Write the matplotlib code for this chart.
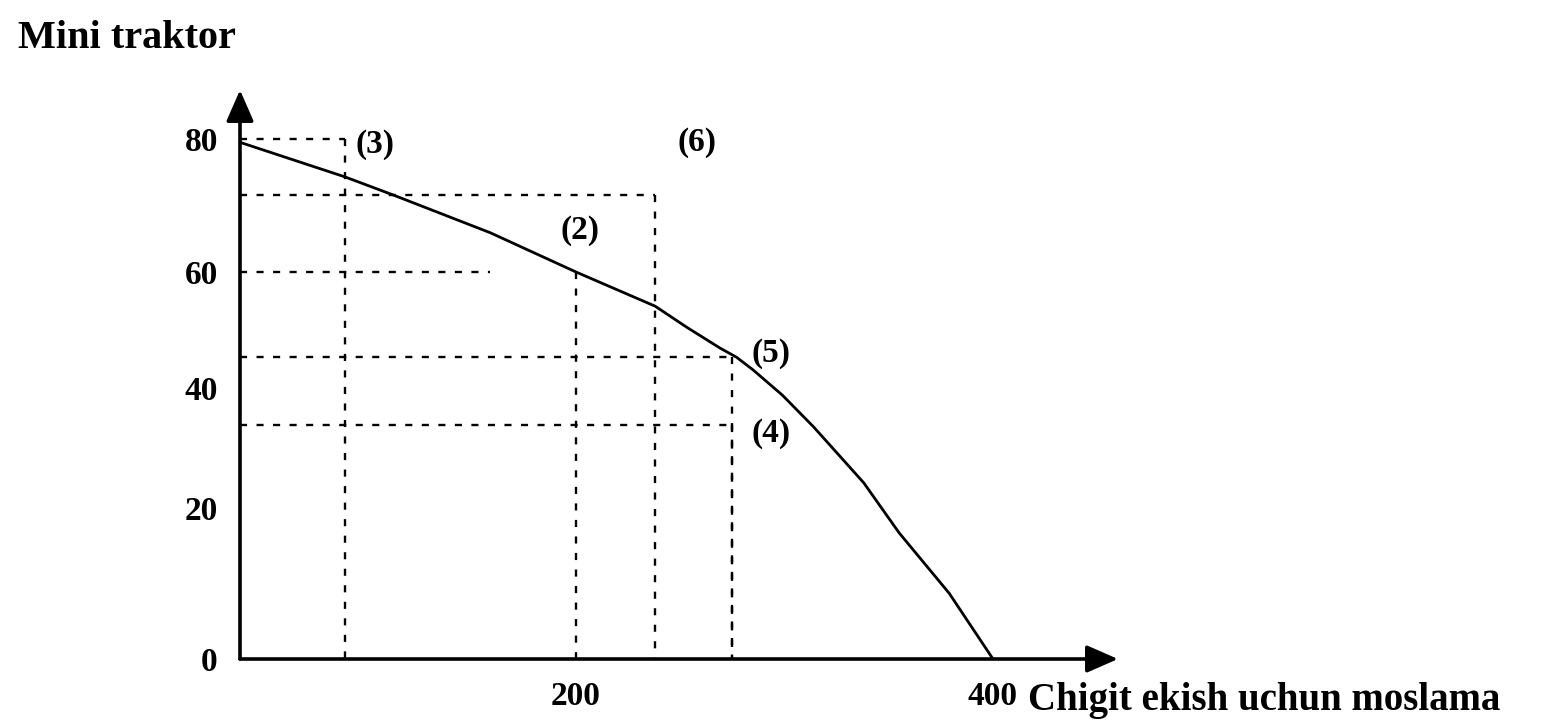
import numpy as np
import matplotlib
matplotlib.use("Agg")
import matplotlib.pyplot as plt

# ---------------- data ----------------
curve_x = [0, 62.5, 91, 149, 200, 238, 253, 269, 277, 285, 299, 314, 338, 355, 379, 400]
curve_y = [79.5, 74.3, 71.6, 65.9, 60, 54.1, 50.5, 46.9, 45.3, 43.1, 38.8, 33.5, 24.2, 16.7, 8.7, 0]

point_labels = ['(2)', '(3)', '(4)', '(5)', '(6)']
point_x = [200, 62.5, 275, 275, 238]
point_y = [60, 80, 33.8, 45.3, 71.6]
# how far each horizontal dotted guide reaches (the 60-line stops short of point 2)
h_guide_end = [149, 62.5, 275, 275, 238]

y_ticks = [0, 20, 40, 60, 80]
y_tick_labels = ['0', '20', '40', '60', '80']
x_ticks = [200, 400]
x_tick_labels = ['200', '400']

y_title = 'Mini traktor'
x_title = 'Chigit ekish uchun moslama'

# ---------------- scale calibration (scanned figure is not uniform) ----------------
X_NODES = np.array([-200.0, 0.0, 200.0, 400.0, 600.0])
X_UNITS = np.array([-336.0, 0.0, 336.0, 753.0, 1170.0])
Y_NODES = np.array([-20.0, 0.0, 20.0, 40.0, 60.0, 80.0, 120.0])
Y_UNITS = np.array([-151.0, 0.0, 151.0, 271.0, 387.0, 520.0, 786.0])

def xf(v):
    return np.interp(np.asarray(v, dtype=float), X_NODES, X_UNITS)

def xi(v):
    return np.interp(np.asarray(v, dtype=float), X_UNITS, X_NODES)

def yf(v):
    return np.interp(np.asarray(v, dtype=float), Y_NODES, Y_UNITS)

def yi(v):
    return np.interp(np.asarray(v, dtype=float), Y_UNITS, Y_NODES)

# ---------------- figure ----------------
W, H = 1552, 720
fig = plt.figure(figsize=(W / 100, H / 100), dpi=100)
fig.patch.set_facecolor('white')

ox, oy = 240, 659          # origin in pixels
x_end, y_end = 1118, 90    # arrow tips in pixels
ax = fig.add_axes([ox / W, (H - oy) / H, (x_end - ox) / W, (oy - y_end) / H])
ax.set_xscale('function', functions=(xf, xi))
ax.set_yscale('function', functions=(yf, yi))
ax.set_xlim(0, float(xi(x_end - ox)))
ax.set_ylim(0, float(yi(oy - y_end)))
ax.patch.set_alpha(0)
for s in ax.spines.values():
    s.set_visible(False)

serif = ['Liberation Serif', 'DejaVu Serif']
tick_font = dict(family=serif, weight='bold', size=24)

ax.set_yticks(y_ticks)
ax.set_yticklabels(y_tick_labels, **tick_font)
ax.set_xticks(x_ticks)
ax.set_xticklabels(x_tick_labels, **tick_font)
ax.tick_params(axis='y', length=0, pad=16)
ax.tick_params(axis='x', length=0, pad=16)
ax.minorticks_off()

# axes with arrows
arrow_kw = dict(arrowstyle='-|>,head_length=0.8,head_width=0.35', color='black',
                lw=2.6, shrinkA=0, shrinkB=0, mutation_scale=24)
ax.annotate('', xy=(1, 0), xycoords='axes fraction', xytext=(0, 0),
            arrowprops=arrow_kw, annotation_clip=False)
ax.annotate('', xy=(0, 1), xycoords='axes fraction', xytext=(0, 0),
            arrowprops=arrow_kw, annotation_clip=False)

# guide lines
guide_kw = dict(color='black', lw=1.7, linestyle=(0, (3, 4)), clip_on=False)
for px, py, hx in zip(point_x, point_y, h_guide_end):
    ax.plot([0, hx], [py, py], **guide_kw)
    ax.plot([px, px], [py, 0], **guide_kw)

# production possibility curve
ax.plot(curve_x, curve_y, color='black', lw=2.0, clip_on=False, solid_capstyle='round')

# point labels
label_offsets = {'(2)': (4, 42), '(3)': (30, -5), '(4)': (39, -8),
                 '(5)': (39, 4), '(6)': (42, 52)}
for lab, px, py in zip(point_labels, point_x, point_y):
    ax.annotate(lab, xy=(px, py), xytext=label_offsets[lab], textcoords='offset pixels',
                ha='center', va='center', family=serif, weight='bold', size=24)

# axis titles
fig.text(18 / W, 1 - 38 / H, y_title, ha='left', va='center',
         family=serif, weight='bold', size=29)
ax.annotate(x_title, xy=(400, 0), xytext=(35, -51), textcoords='offset pixels',
            ha='left', va='baseline', family=serif, weight='bold', size=28,
            annotation_clip=False)

fig.savefig('out.png', dpi=100, facecolor='white')
